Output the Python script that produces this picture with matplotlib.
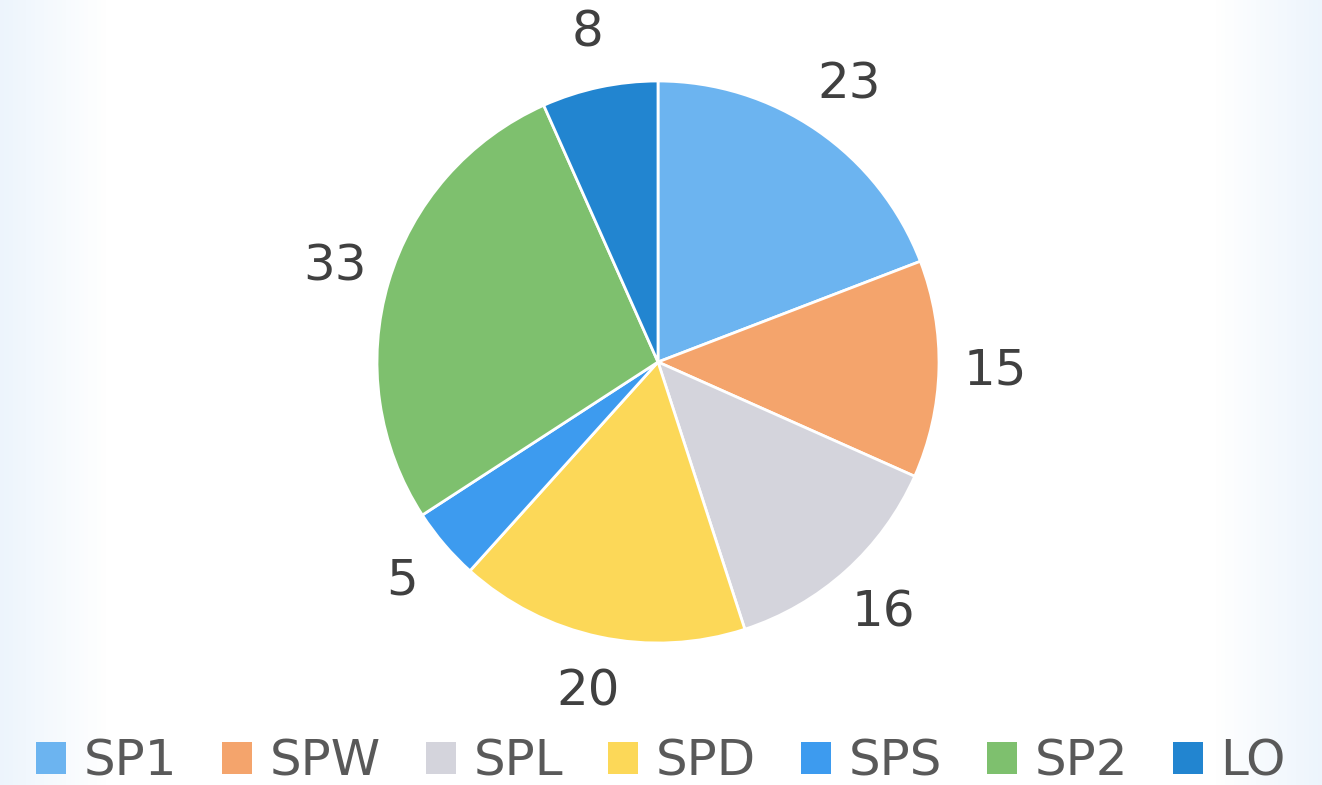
import numpy as np
import matplotlib.pyplot as plt
from matplotlib.patches import Patch

categorias = ['SP1', 'SPW', 'SPL', 'SPD', 'SPS', 'SP2', 'LO']
valores = [23, 15, 16, 20, 5, 33, 8]
colores = ['#6CB4F0', '#F4A46C', '#D4D4DC', '#FCD858', '#3D9BEF', '#7EC06E', '#2285D0']

W, H = 1322, 785
fig = plt.figure(figsize=(W / 100, H / 100), dpi=100)

# fondo casi blanco con un leve tono azul en los bordes
bg = fig.add_axes([0, 0, 1, 1])
xx = np.linspace(0, 1, 300)
grad = np.minimum(np.clip(xx / 0.08, 0, 1), np.clip((1 - xx) / 0.08, 0, 1))
img = np.ones((10, 300, 3))
base = np.array([0.93, 0.96, 0.99])
for k in range(3):
    img[:, :, k] = base[k] + (1 - base[k]) * grad
bg.imshow(img, aspect='auto', extent=[0, 1, 0, 1])
bg.axis('off')

cx, cy, r = 658, H - 362, 281
ax = fig.add_axes([(cx - r) / W, (cy - r) / H, 2 * r / W, 2 * r / H])
wedges, textos = ax.pie(valores, colors=colores, startangle=90, counterclock=False,
                        labels=[str(v) for v in valores], labeldistance=1.2,
                        wedgeprops={'edgecolor': 'white', 'linewidth': 2},
                        textprops={'fontsize': 36, 'color': '#404040'})
for t in textos:
    t.set_horizontalalignment('center')
    t.set_verticalalignment('center')
ax.set_xlim(-1, 1)
ax.set_ylim(-1, 1)
ax.set_aspect('equal')

handles = [Patch(facecolor=c, edgecolor='none') for c in colores]
fig.legend(handles, categorias, loc='lower center', ncol=7, bbox_to_anchor=(0.5, -0.058),
           frameon=False, labelcolor='#595959', handlelength=0.6,
           handleheight=0.6, handletextpad=0.35, columnspacing=0.9, fontsize=36)

plt.savefig('out.png', dpi=100)
